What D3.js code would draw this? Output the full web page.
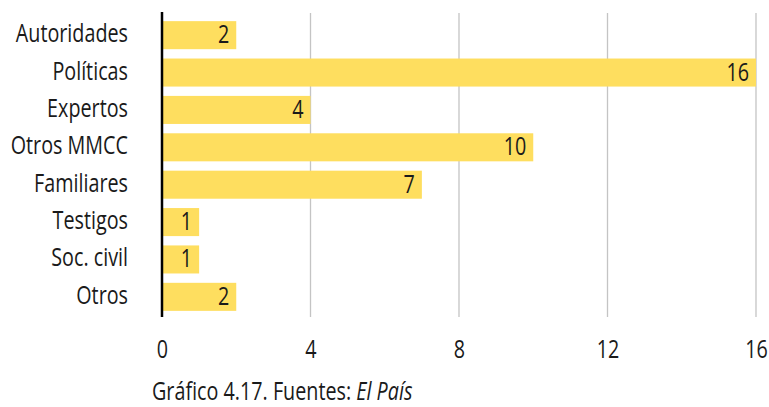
<!DOCTYPE html>
<html><head><meta charset="utf-8">
<script src="https://cdn.jsdelivr.net/npm/d3@7"></script>
<style>
body{margin:0;background:#fff;}
svg text{font-family:"Open Sans","DejaVu Sans Condensed",sans-serif;fill:#1a1a1a;}
</style></head><body>
<svg id="c" width="769" height="407"></svg>
<script>
const categories = ["Autoridades","Políticas","Expertos","Otros MMCC","Familiares","Testigos","Soc. civil","Otros"];
const values = [2,16,4,10,7,1,1,2];
const tickValues = [0,4,8,12,16];
const caption = "Gráfico 4.17. Fuentes: ";
const captionItalic = "El País";

const SX = 0.76; // horizontal condensing to mimic a condensed face
const FS = 26;
const FF = '"Open Sans","DejaVu Sans Condensed",sans-serif';

const svg = d3.select("#c");
const x = d3.scaleLinear().domain([0,16]).range([162,756]);
const y = d3.scaleBand().domain(categories).range([21,311]).paddingInner(0.25).paddingOuter(0.125);
y.range([21 - y.step()*0.125, 311 + y.step()*0.125]);

// gridlines
svg.append("g").selectAll("line").data(tickValues.filter(d=>d>0)).join("line")
  .attr("x1",d=>x(d)).attr("x2",d=>x(d)).attr("y1",13).attr("y2",317)
  .attr("stroke","#c4c4c4").attr("stroke-width",1.3);

// bars
svg.append("g").selectAll("rect").data(values).join("rect")
  .attr("x",x(0)).attr("y",(d,i)=>y(categories[i]))
  .attr("width",d=>x(d)-x(0)).attr("height",y.bandwidth())
  .attr("fill","#fede5f");

// value labels
svg.append("g").selectAll("g").data(values).join("g")
  .attr("transform",(d,i)=>`translate(${x(d)-7},${y(categories[i])+y.bandwidth()/2+8}) scale(${SX},1)`)
  .append("text").attr("text-anchor","end").attr("font-size",FS).text(d=>d);

// zero axis line
svg.append("line").attr("x1",x(0)).attr("x2",x(0)).attr("y1",12).attr("y2",317)
  .attr("stroke","#000").attr("stroke-width",2.5);

// category labels
const yAxis = d3.axisLeft(y).tickSize(0).tickPadding(0);
const gy = svg.append("g").attr("transform","translate(128,0)").call(yAxis);
gy.select(".domain").remove();
gy.selectAll("text").attr("font-size",FS).attr("dy",null).attr("y",7)
  .attr("transform",`scale(${SX},1)`)
  .style("font-family",FF).attr("fill","#1a1a1a");

// x axis tick labels
const xAxis = d3.axisBottom(x).tickValues(tickValues).tickSize(0).tickPadding(0);
const gx = svg.append("g").attr("transform","translate(0,358)").call(xAxis);
gx.select(".domain").remove();
gx.selectAll("text").attr("font-size",FS).attr("dy",null).attr("y",0)
  .attr("transform",`scale(${SX},1)`)
  .style("font-family",FF).attr("fill","#1a1a1a");

// caption
const cap = svg.append("g").attr("transform",`translate(152,400) scale(${SX},1)`)
  .append("text").attr("font-size",26).attr("fill","#222");
cap.append("tspan").text(caption);
cap.append("tspan").attr("font-style","italic").text(captionItalic);
</script>
</body></html>
